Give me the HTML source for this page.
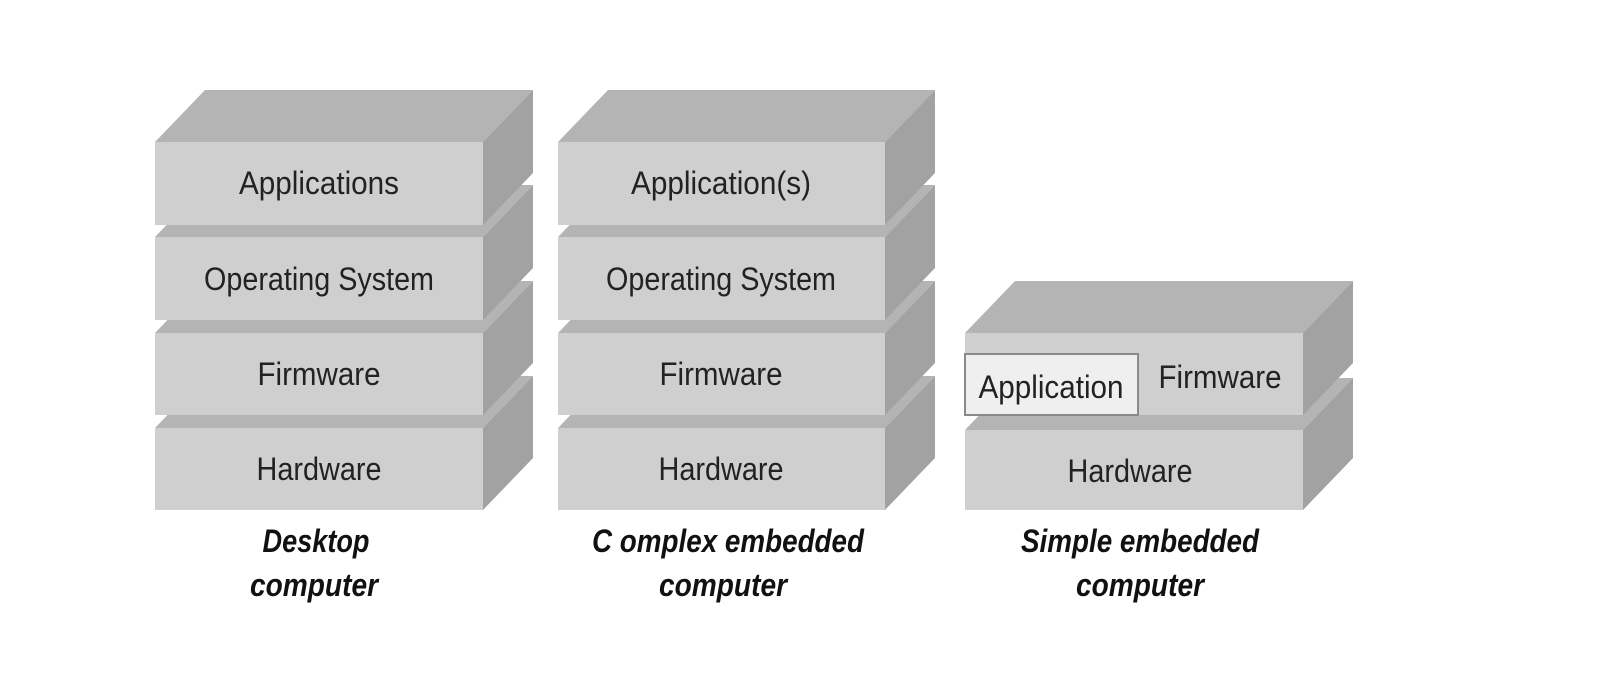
<!DOCTYPE html>
<html><head><meta charset="utf-8"><style>html,body{margin:0;padding:0;background:#fff;}svg{display:block}</style></head>
<body>
<svg width="1614" height="700" viewBox="0 0 1614 700" xmlns="http://www.w3.org/2000/svg" font-family="'Liberation Sans Narrow','Liberation Sans',sans-serif">
<defs>
<g id="none"></g>
</defs>
<!-- Desktop stack -->
<g>
  <!-- Hardware -->
  <polygon points="155,428 205,376 533,376 483,428" fill="#b4b4b4"/>
  <polygon points="483,428 533,376 533,458 483,510" fill="#a2a2a2"/>
  <rect x="155" y="428" width="328" height="82" fill="#cfcfcf"/>
  <!-- Firmware -->
  <polygon points="155,333 205,281 533,281 483,333" fill="#b4b4b4"/>
  <polygon points="483,333 533,281 533,363 483,415" fill="#a2a2a2"/>
  <rect x="155" y="333" width="328" height="82" fill="#cfcfcf"/>
  <!-- OS -->
  <polygon points="155,237 205,185 533,185 483,237" fill="#b4b4b4"/>
  <polygon points="483,237 533,185 533,268 483,320" fill="#a2a2a2"/>
  <rect x="155" y="237" width="328" height="83" fill="#cfcfcf"/>
  <!-- Applications -->
  <polygon points="155,142 205,90 533,90 483,142" fill="#b4b4b4"/>
  <polygon points="483,142 533,90 533,173 483,225" fill="#a2a2a2"/>
  <rect x="155" y="142" width="328" height="83" fill="#cfcfcf"/>
  <g font-size="32" fill="#222" text-anchor="middle">
    <text x="319" y="194" textLength="160" lengthAdjust="spacingAndGlyphs">Applications</text>
    <text x="319" y="290" textLength="230" lengthAdjust="spacingAndGlyphs">Operating System</text>
    <text x="319" y="385" textLength="123" lengthAdjust="spacingAndGlyphs">Firmware</text>
    <text x="319" y="480" textLength="125" lengthAdjust="spacingAndGlyphs">Hardware</text>
  </g>
</g>
<!-- Complex stack -->
<g>
  <polygon points="558,428 608,376 935,376 885,428" fill="#b4b4b4"/>
  <polygon points="885,428 935,376 935,458 885,510" fill="#a2a2a2"/>
  <rect x="558" y="428" width="327" height="82" fill="#cfcfcf"/>
  <polygon points="558,333 608,281 935,281 885,333" fill="#b4b4b4"/>
  <polygon points="885,333 935,281 935,363 885,415" fill="#a2a2a2"/>
  <rect x="558" y="333" width="327" height="82" fill="#cfcfcf"/>
  <polygon points="558,237 608,185 935,185 885,237" fill="#b4b4b4"/>
  <polygon points="885,237 935,185 935,268 885,320" fill="#a2a2a2"/>
  <rect x="558" y="237" width="327" height="83" fill="#cfcfcf"/>
  <polygon points="558,142 608,90 935,90 885,142" fill="#b4b4b4"/>
  <polygon points="885,142 935,90 935,173 885,225" fill="#a2a2a2"/>
  <rect x="558" y="142" width="327" height="83" fill="#cfcfcf"/>
  <g font-size="32" fill="#222" text-anchor="middle">
    <text x="721" y="194" textLength="180" lengthAdjust="spacingAndGlyphs">Application(s)</text>
    <text x="721" y="290" textLength="230" lengthAdjust="spacingAndGlyphs">Operating System</text>
    <text x="721" y="385" textLength="123" lengthAdjust="spacingAndGlyphs">Firmware</text>
    <text x="721" y="480" textLength="125" lengthAdjust="spacingAndGlyphs">Hardware</text>
  </g>
</g>
<!-- Simple stack -->
<g>
  <polygon points="965,430 1015,378 1353,378 1303,430" fill="#b4b4b4"/>
  <polygon points="1303,430 1353,378 1353,458 1303,510" fill="#a2a2a2"/>
  <rect x="965" y="430" width="338" height="80" fill="#cfcfcf"/>
  <polygon points="965,333 1015,281 1353,281 1303,333" fill="#b4b4b4"/>
  <polygon points="1303,333 1353,281 1353,363 1303,415" fill="#a2a2a2"/>
  <rect x="965" y="333" width="338" height="82" fill="#cfcfcf"/>
  <rect x="965" y="354" width="173" height="61" fill="#efefef" stroke="#8a8a8a" stroke-width="2"/>
  <g font-size="32" fill="#222" text-anchor="middle">
    <text x="1051" y="398" textLength="145" lengthAdjust="spacingAndGlyphs">Application</text>
    <text x="1220" y="388" textLength="123" lengthAdjust="spacingAndGlyphs">Firmware</text>
    <text x="1130" y="482" textLength="125" lengthAdjust="spacingAndGlyphs">Hardware</text>
  </g>
</g>
<!-- Captions -->
<g font-size="32" font-style="italic" font-weight="bold" fill="#111" text-anchor="middle">
  <text x="316" y="552" textLength="107" lengthAdjust="spacingAndGlyphs">Desktop</text>
  <text x="314" y="596" textLength="128" lengthAdjust="spacingAndGlyphs">computer</text>
  <text x="728" y="552" textLength="272" lengthAdjust="spacingAndGlyphs">C  omplex embedded</text>
  <text x="723" y="596" textLength="128" lengthAdjust="spacingAndGlyphs">computer</text>
  <text x="1140" y="552" textLength="238" lengthAdjust="spacingAndGlyphs">Simple embedded</text>
  <text x="1140" y="596" textLength="128" lengthAdjust="spacingAndGlyphs">computer</text>
</g>
</svg>
</body></html>
